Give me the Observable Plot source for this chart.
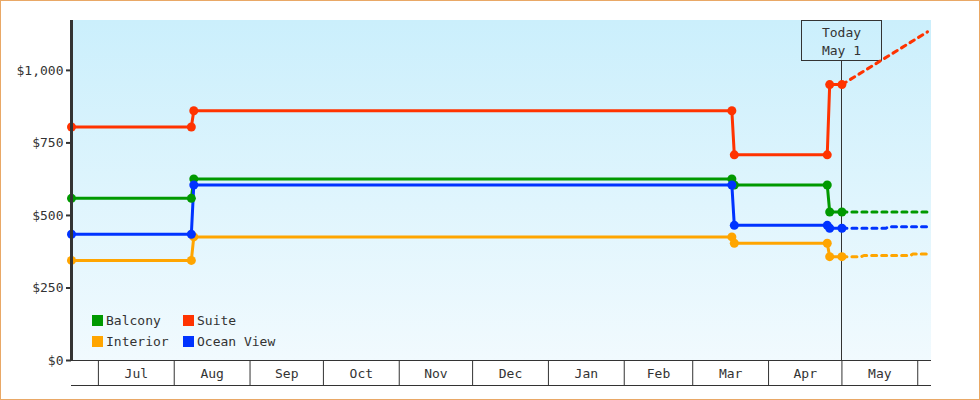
<!DOCTYPE html>
<html><head><meta charset="utf-8">
<script src="https://cdn.jsdelivr.net/npm/d3@7"></script>
<script src="https://cdn.jsdelivr.net/npm/@observablehq/plot@0.6"></script>
<style>
html,body{margin:0;padding:0;background:#fff;}
#chart svg{display:block;outline:1px solid #e9a866;outline-offset:-1px;}
</style></head>
<body><div id="chart"></div>
<script>
// ---- data ----
const seriesNames = ["Balcony", "Suite", "Interior", "Ocean View"];
const seriesColors = ["#009900", "#ff3300", "#ffa500", "#0033ff"];

const historyDates = ["2018-06-20", "2018-08-08", "2018-08-09", "2019-03-17", "2019-03-18", "2019-04-25", "2019-04-26", "2019-05-01"];
const balconyPrices = [559, 559, 626, 626, 605, 605, 512, 512];
const suitePrices = [805, 805, 861, 861, 709, 709, 951, 951];
const interiorPrices = [345, 345, 426, 426, 404, 404, 358, 358];
const oceanViewPrices = [435, 435, 605, 605, 466, 466, 456, 456];

const balconyForecastDates = ["2019-05-01", "2019-06-05"];
const balconyForecast = [512, 512];
const suiteForecastDates = ["2019-05-01", "2019-06-05"];
const suiteForecast = [951, 1133];
const interiorForecastDates = ["2019-05-01", "2019-05-09", "2019-05-10", "2019-05-29", "2019-05-30", "2019-06-05"];
const interiorForecast = [358, 358, 362, 362, 367, 367];
const oceanViewForecastDates = ["2019-05-01", "2019-05-19", "2019-05-20", "2019-06-05"];
const oceanViewForecast = [456, 456, 461, 461];

const monthTicks = ["2018-07-01", "2018-08-01", "2018-09-01", "2018-10-01", "2018-11-01", "2018-12-01", "2019-01-01", "2019-02-01", "2019-03-01", "2019-04-01", "2019-05-01", "2019-06-01"];
const monthLabels = ["Jul", "Aug", "Sep", "Oct", "Nov", "Dec", "Jan", "Feb", "Mar", "Apr", "May"];
const yTicks = [0, 250, 500, 750, 1000];
const todayDate = "2019-05-01";
const todayLabel = ["Today", "May 1"];
const xDomain = ["2018-06-20", "2019-06-06T15:00"];
const yDomain = [0, 1172];

// ---- tables ----
const historyValues = [balconyPrices, suitePrices, interiorPrices, oceanViewPrices];
const forecastDates = [balconyForecastDates, suiteForecastDates, interiorForecastDates, oceanViewForecastDates];
const forecastValues = [balconyForecast, suiteForecast, interiorForecast, oceanViewForecast];

const history = seriesNames.flatMap((s, i) => historyDates.map((d, j) => ({series: s, date: new Date(d), price: historyValues[i][j]})));
const forecast = seriesNames.flatMap((s, i) => forecastDates[i].map((d, j) => ({series: s, date: new Date(d), price: forecastValues[i][j]})));
const tickDates = monthTicks.map(d => new Date(d));
const monthMid = monthLabels.map((m, i) => ({label: m, date: new Date((tickDates[i].getTime() + tickDates[i + 1].getTime()) / 2)}));

const FONT = "'DejaVu Sans Mono', monospace";
const INK = "#333";

function background(index, scales, values, dim) {
  const g = d3.create("svg:g");
  const lg = g.append("defs").append("linearGradient").attr("id", "bgGrad")
    .attr("x1", 0).attr("y1", 0).attr("x2", 0).attr("y2", 1);
  lg.append("stop").attr("offset", "0%").attr("stop-color", "#cbeffc");
  lg.append("stop").attr("offset", "100%").attr("stop-color", "#f1fafe");
  g.append("rect")
    .attr("x", dim.marginLeft).attr("y", dim.marginTop)
    .attr("width", dim.width - dim.marginLeft - dim.marginRight)
    .attr("height", dim.height - dim.marginTop - dim.marginBottom)
    .attr("fill", "url(#bgGrad)");
  return g.node();
}

function todayMarker(index, scales, values, dim) {
  const x = Math.round(scales.x(new Date(todayDate))) + 0.5;
  const g = d3.create("svg:g");
  const boxW = 80, boxH = 40, top = dim.marginTop + 0.5;
  g.append("line").attr("x1", x).attr("x2", x)
    .attr("y1", top + boxH).attr("y2", dim.height - dim.marginBottom)
    .attr("stroke", INK).attr("stroke-width", 1);
  g.append("rect").attr("x", x - boxW / 2).attr("y", top).attr("width", boxW).attr("height", boxH)
    .attr("fill", "none").attr("stroke", INK);
  todayLabel.forEach((t, i) => {
    g.append("text").attr("x", x).attr("y", top + 12 + i * 18)
      .attr("text-anchor", "middle").attr("dy", "0.35em")
      .attr("fill", INK).attr("font-family", FONT).attr("font-size", 13).text(t);
  });
  return g.node();
}

function legend(index, scales, values, dim) {
  const g = d3.create("svg:g");
  const x0 = dim.marginLeft + 21, yBase = dim.height - dim.marginBottom - 45;
  seriesNames.forEach((s, i) => {
    const col = i % 2, row = Math.floor(i / 2);
    const x = x0 + col * 91, y = yBase + row * 21;
    g.append("rect").attr("x", x).attr("y", y).attr("width", 11).attr("height", 11)
      .attr("fill", scales.color(s));
    g.append("text").attr("x", x + 14).attr("y", y + 5.5).attr("dy", "0.35em")
      .attr("text-anchor", "start")
      .attr("fill", INK).attr("font-family", FONT).attr("font-size", 13).text(s);
  });
  return g.node();
}

const chart = Plot.plot({
  width: 980,
  height: 400,
  marginLeft: 71,
  marginRight: 49,
  marginTop: 20,
  marginBottom: 40,
  style: {fontFamily: FONT, fontSize: "13px", color: INK, background: "#fff", overflow: "visible"},
  x: {type: "utc", domain: xDomain.map(d => new Date(d)), label: null},
  y: {domain: yDomain, label: null},
  color: {domain: seriesNames, range: seriesColors},
  marks: [
    background,
    Plot.axisY({ticks: yTicks, tickFormat: d3.format("$,"), tickSize: 5, tickPadding: 3, strokeWidth: 2, fontSize: 13, label: null}),
    Plot.axisX({ticks: tickDates, tickSize: 25, tickFormat: () => "", strokeWidth: 1, label: null}),
    Plot.text(monthMid, {x: "date", text: "label", frameAnchor: "bottom", dy: 13, lineAnchor: "middle", fill: INK, fontSize: 13}),
    Plot.ruleY([0], {stroke: INK, strokeWidth: 1}),
    Plot.ruleY([0], {stroke: INK, strokeWidth: 1, dy: 25}),
    todayMarker,
    Plot.line(forecast, {x: "date", y: "price", z: "series", stroke: "series", strokeWidth: 3, strokeDasharray: "5,5"}),
    Plot.line(history, {x: "date", y: "price", z: "series", stroke: "series", strokeWidth: 3}),
    Plot.dot(history, {x: "date", y: "price", fill: "series", r: 4.5}),
    Plot.ruleX([new Date(xDomain[0])], {stroke: INK, strokeWidth: 3}),
    legend
  ]
});
document.getElementById("chart").append(chart);
</script>
</body></html>
